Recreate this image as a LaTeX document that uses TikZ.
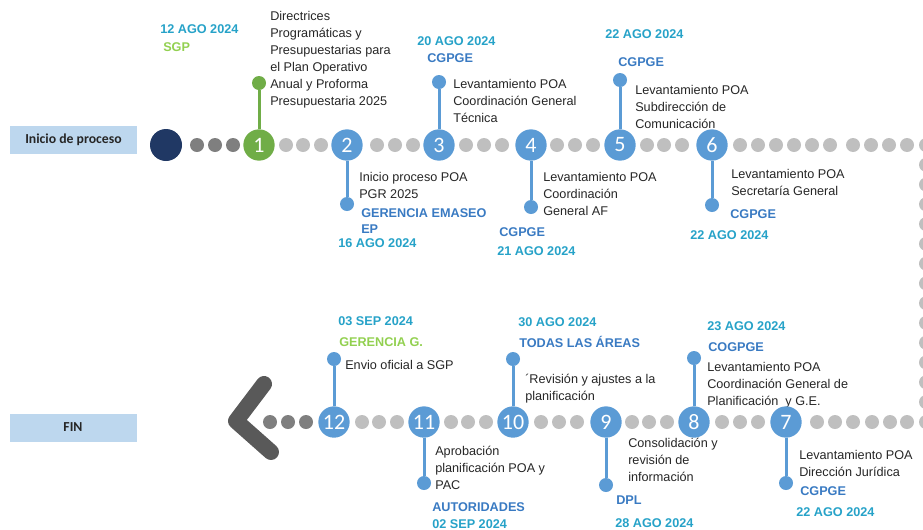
\documentclass[tikz,border=0pt]{standalone}
\usepackage{fontspec}
\setmainfont{Liberation Sans}
\newfontfamily\calibri{Carlito}
\usepackage{tikz}
\definecolor{hito}{RGB}{91,155,213}
\definecolor{verde}{RGB}{112,173,71}
\definecolor{verdeclaro}{RGB}{146,208,80}
\definecolor{inicio}{RGB}{32,56,100}
\definecolor{gris}{RGB}{191,191,191}
\definecolor{grisoscuro}{RGB}{127,127,127}
\definecolor{flecha}{RGB}{89,89,89}
\definecolor{fechacol}{RGB}{38,162,200}
\definecolor{areacol}{RGB}{57,122,194}
\definecolor{caja}{RGB}{189,215,238}
\def\descfont{\fontsize{9.5}{12.75}\selectfont}

\begin{document}
\begin{tikzpicture}[x=0.75pt,y=-0.75pt,inner sep=0pt]
    \tikzstyle{milestone}=[circle,fill=hito,minimum size=23.5pt,text=white,font=\calibri\fontsize{16.5}{16.5}\selectfont]
    \tikzstyle{green milestone}=[milestone,fill=verde]
    \tikzstyle{pinhead}=[circle,fill=hito,minimum size=10.5pt]
    \tikzstyle{stem}=[draw=hito,line width=2.25pt]
    \tikzstyle{light dot}=[circle,fill=gris,minimum size=10.5pt]
    \tikzstyle{dark dot}=[light dot,fill=grisoscuro]
    \tikzstyle{desc}=[anchor=north west,align=left,font=\descfont,text=black!85]
    \tikzstyle{fecha}=[anchor=west,text height=6.8pt,text depth=0pt,font=\descfont\bfseries,text=fechacol]
    \tikzstyle{area}=[fecha,text=areacol]
    \tikzstyle{etapa}=[fill=caja,minimum width=95.25pt,minimum height=21pt,font=\calibri\bfseries\fontsize{10.3}{12}\selectfont,text=black!85]

    \clip (0,0) rectangle (923,529);

    % Draw the stage boxes
    \node[etapa] (inicio) at (73.5,140) {Inicio de proceso};
    \node[etapa] (fin) at (73,427.5) {FIN};

    % Texts of the upper row
    \node[fecha] (F-1) at (160,29) {12 AGO 2024};
    \node[area,text=verdeclaro] (A-1) at (163,47) {SGP};
    \node[desc] (D-1) at (270,11.5) {Directrices\\Programáticas y\\Presupuestarias para\\el Plan Operativo\\Anual y Proforma\\Presupuestaria 2025};
    \node[desc] (D-2) at (359,172.5) {Inicio proceso POA\\PGR 2025};
    \node[desc,font=\fontsize{9.5}{12}\selectfont\bfseries,text=areacol] (A-2) at (361,208.5) {GERENCIA EMASEO\\EP};
    \node[fecha] (F-2) at (338,243) {16 AGO 2024};
    \node[fecha] (F-3) at (417,41) {20 AGO 2024};
    \node[area] (A-3) at (427,58) {CGPGE};
    \node[desc] (D-3) at (453,79.5) {Levantamiento POA\\Coordinación General\\Técnica};
    \node[desc] (D-4) at (543,172.5) {Levantamiento POA\\Coordinación\\General AF};
    \node[area] (A-4) at (499,232) {CGPGE};
    \node[fecha] (F-4) at (497,251) {21 AGO 2024};
    \node[fecha] (F-5) at (605,34) {22 AGO 2024};
    \node[area] (A-5) at (618,62) {CGPGE};
    \node[desc] (D-5) at (635,85.5) {Levantamiento POA\\Subdirección de\\Comunicación};
    \node[desc] (D-6) at (731,169.5) {Levantamiento POA\\Secretaría General};
    \node[area] (A-6) at (730,214) {CGPGE};
    \node[fecha] (F-6) at (690,235) {22 AGO 2024};

    % Texts of the lower row
    \node[desc] (D-7) at (799,450.5) {Levantamiento POA\\Dirección Jurídica};
    \node[area] (A-7) at (800,491) {CGPGE};
    \node[fecha] (F-7) at (796,512) {22 AGO 2024};
    \node[fecha] (F-8) at (707,326) {23 AGO 2024};
    \node[area] (A-8) at (708,347) {COGPGE};
    \node[desc] (D-8) at (707,362.5) {Levantamiento POA\\Coordinación General de\\Planificación\ \ y G.E.};
    \node[desc] (D-9) at (628,437.5) {Consolidación y\\revisión de\\información};
    \node[area] (A-9) at (616,500) {DPL};
    \node[fecha] (F-9) at (615,523) {28 AGO 2024};
    \node[fecha] (F-10) at (518,322) {30 AGO 2024};
    \node[area] (A-10) at (519,343) {TODAS LAS ÁREAS};
    \node[desc] (D-10) at (525,373.5) {´Revisión y ajustes a la\\planificación};
    \node[desc] (D-11) at (435,445.5) {Aprobación\\planificación POA y\\PAC};
    \node[area] (A-11) at (432,507) {AUTORIDADES};
    \node[fecha] (F-11) at (432,524) {02 SEP 2024};
    \node[fecha] (F-12) at (338,321) {03 SEP 2024};
    \node[area,text=verdeclaro] (A-12) at (339,342) {GERENCIA G.};
    \node[desc] (D-12) at (345,360.5) {Envio oficial a SGP};

    % Draw the dots of the timeline
    \foreach \x [count=\i] in {197,215,233}
        \node[dark dot] (k-\i) at (\x,145) {};
    \foreach \x [count=\i] in {286,303,321,377,395,413,466,484,502,557,575,593,
                               647,664,682,740,758,776,794,812,830,853,871,889,907,926}
        \node[light dot] (t-\i) at (\x,145) {};
    \foreach \i in {1,...,13}
        \node[light dot] (v-\i) at (926,145+19.77*\i) {};
    \foreach \x [count=\i] in {362,379,397,451,468,486,541,559,577,632,649,667,
                               722,740,758,817,835,853,872,890,907,926}
        \node[light dot] (b-\i) at (\x,422) {};
    \foreach \x [count=\i] in {270,288,306}
        \node[dark dot] (m-\i) at (\x,422) {};

    % Start and end of the timeline
    \node[circle,fill=inicio,minimum size=24pt] (S) at (166,145) {};
    \coordinate (E-1) at (264,384);
    \coordinate (E-2) at (236,421);
    \coordinate (E-3) at (271,452);
    \draw[flecha,line width=12pt,line cap=round,line join=round] (E-1) -- (E-2) -- (E-3);

    % Draw the milestones and their pins
    \node[green milestone] (C-1) at (259,145) {1};
    \node[pinhead,fill=verde] (P-1) at (259,83) {};
    \foreach \name / \x / \y in {2/347/204,3/439/82,4/531/207,5/620/80,6/712/205}
    {
        \node[milestone] (C-\name) at (\x,145) {\name};
        \node[pinhead] (P-\name) at (\x,\y) {};
    }
    \foreach \name / \x / \y in {7/786/483,8/694/358,9/606/485,10/513/359,11/424/483,12/334/359}
    {
        \node[milestone] (C-\name) at (\x,422) {\name};
        \node[pinhead] (P-\name) at (\x,\y) {};
    }

    % Connect every milestone with its pin
    \draw[stem,draw=verde] (C-1) -- (P-1);
    \foreach \name in {2,...,12}
        \draw[stem] (C-\name) -- (P-\name);
\end{tikzpicture}
\end{document}
